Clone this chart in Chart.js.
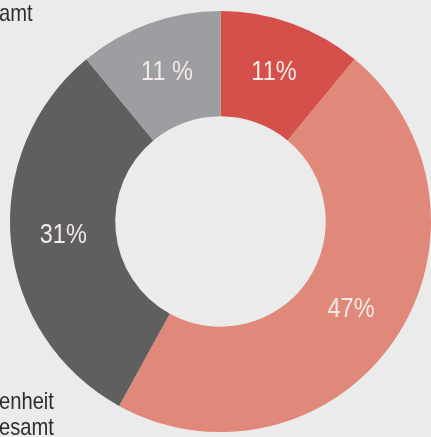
<!DOCTYPE html>
<html>
<head>
<meta charset="utf-8">
<script src="https://cdn.jsdelivr.net/npm/chart.js@4/dist/chart.umd.min.js"></script>
<style>
  html, body { margin: 0; padding: 0; background: #ebebeb; }
  #wrap { position: relative; width: 431px; height: 437px; overflow: hidden; background: #ebebeb; }
  #c { position: absolute; left: 0; top: 0; }
  .frag { position: absolute; left: -1px; font-family: 'Liberation Sans', sans-serif; font-size: 24px; color: #2e2e2e; white-space: nowrap; line-height: 1; transform: scaleX(0.84); transform-origin: left top; }
</style>
</head>
<body>
<div id="wrap">
  <canvas id="c" width="431" height="437"></canvas>
  <div class="frag" style="top:1px;">amt</div>
  <div class="frag" style="top:389px;">enheit</div>
  <div class="frag" style="top:415px;">esamt</div>
</div>
<script>
const categories = ['A', 'B', 'C', 'D'];
const values = [11, 47, 31, 11];
const valueLabels = ['11%', '47%', '31%', '11 %'];
const colors = ['#d6504b', '#e08879', '#5f5f5f', '#9d9ea2'];

const sliceLabels = {
  id: 'sliceLabels',
  afterDatasetsDraw(chart) {
    const ctx = chart.ctx;
    const meta = chart.getDatasetMeta(0);
    meta.data.forEach((arc, i) => {
      const p = arc.tooltipPosition();
      ctx.save();
      ctx.font = "28px 'Liberation Sans', sans-serif";
      ctx.fillStyle = '#f3e9e6';
      ctx.textAlign = 'center';
      ctx.textBaseline = 'middle';
      ctx.translate(p.x, p.y - 1);
      ctx.scale(0.84, 1);
      ctx.fillText(valueLabels[i], 0, 0);
      ctx.restore();
    });
  }
};

new Chart(document.getElementById('c'), {
  type: 'doughnut',
  data: {
    labels: categories,
    datasets: [{
      data: values,
      backgroundColor: colors,
      borderWidth: 0
    }]
  },
  options: {
    responsive: false,
    animation: false,
    cutout: '50%',
    layout: { padding: { left: 10, right: 0, top: 11, bottom: 5 } },
    plugins: { legend: { display: false }, tooltip: { enabled: false } }
  },
  plugins: [sliceLabels]
});
</script>
</body>
</html>
